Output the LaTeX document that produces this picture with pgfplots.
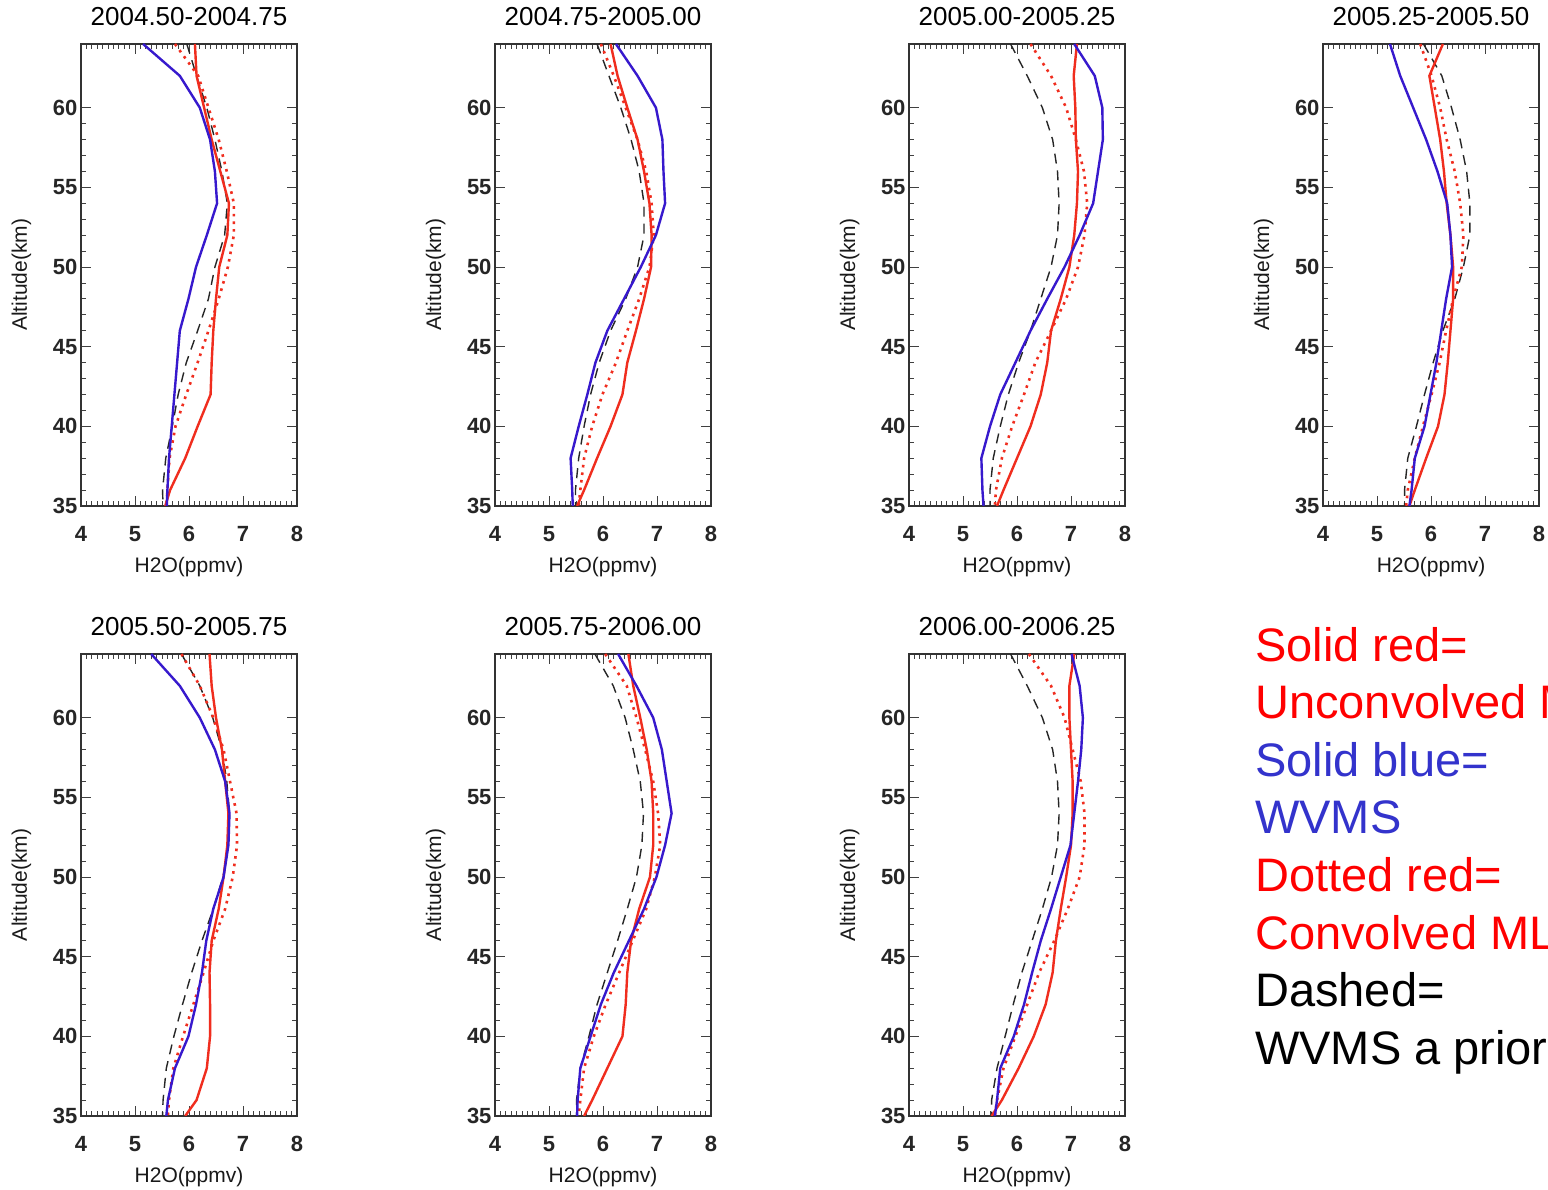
\documentclass[border=0pt]{standalone}
\usepackage{fontspec}
\setmainfont{Liberation Sans}
\usepackage{pgfplots}
\usepackage{pgfplotstable}
\pgfplotsset{compat=1.18}
\definecolor{wblue}{RGB}{55,25,205}
\definecolor{mred}{RGB}{240,45,30}

\pgfplotstableread{
alt blue red dot dash
64 5.15 6.11 5.74 5.96
62 5.83 6.14 6.17 6.14
60 6.20 6.28 6.36 6.33
58 6.39 6.42 6.55 6.48
56 6.48 6.58 6.70 6.61
54 6.52 6.74 6.83 6.71
52 6.33 6.71 6.83 6.66
50 6.13 6.56 6.72 6.48
48 5.99 6.50 6.55 6.36
46 5.83 6.45 6.36 6.16
44 5.78 6.42 6.16 5.95
42 5.73 6.40 5.95 5.80
40 5.68 6.16 5.75 5.69
38 5.63 5.93 5.64 5.57
36 5.60 5.65 5.60 5.51
35 5.59 5.56 5.58 5.52
}\tA
\pgfplotstableread{
alt blue red dot dash
64 6.24 6.14 5.96 5.89
62 6.64 6.27 6.20 6.11
60 6.98 6.45 6.42 6.33
58 7.10 6.64 6.64 6.52
56 7.12 6.76 6.80 6.67
54 7.15 6.86 6.90 6.76
52 6.98 6.90 6.94 6.76
50 6.70 6.89 6.86 6.64
48 6.39 6.76 6.67 6.42
46 6.08 6.61 6.45 6.14
44 5.86 6.45 6.24 5.93
42 5.71 6.36 5.99 5.77
40 5.55 6.14 5.80 5.65
38 5.40 5.89 5.65 5.55
36 5.43 5.65 5.58 5.49
35 5.44 5.52 5.55 5.49
}\tB
\pgfplotstableread{
alt blue red dot dash
64 7.06 7.11 6.25 5.88
62 7.44 7.05 6.63 6.19
60 7.58 7.08 6.91 6.47
58 7.59 7.09 7.09 6.66
56 7.50 7.13 7.24 6.75
54 7.41 7.11 7.30 6.78
52 7.16 7.06 7.25 6.75
50 6.88 6.97 7.13 6.63
48 6.56 6.81 6.91 6.44
46 6.25 6.63 6.63 6.25
44 5.97 6.56 6.34 6.03
42 5.69 6.44 6.13 5.84
40 5.50 6.25 5.91 5.69
38 5.34 6.00 5.72 5.56
36 5.36 5.75 5.61 5.50
35 5.38 5.63 5.59 5.50
}\tC
\pgfplotstableread{
alt blue red dot dash
64 5.24 6.22 5.80 5.86
62 5.43 5.97 6.01 6.20
60 5.67 6.07 6.17 6.38
58 5.91 6.17 6.29 6.54
56 6.12 6.24 6.44 6.66
54 6.30 6.29 6.54 6.72
52 6.36 6.36 6.60 6.72
50 6.39 6.41 6.57 6.60
48 6.28 6.41 6.41 6.44
46 6.19 6.36 6.28 6.22
44 6.10 6.31 6.16 6.04
42 5.99 6.25 6.01 5.88
40 5.88 6.13 5.85 5.73
38 5.70 5.91 5.70 5.57
36 5.64 5.70 5.57 5.51
35 5.60 5.60 5.54 5.51
}\tD
\pgfplotstableread{
alt blue red dot dash
64 5.30 6.38 5.86 5.86
62 5.83 6.42 6.20 6.20
60 6.20 6.50 6.45 6.44
58 6.48 6.61 6.64 6.61
56 6.67 6.67 6.76 6.70
54 6.75 6.73 6.88 6.75
52 6.73 6.71 6.89 6.73
50 6.64 6.64 6.81 6.63
48 6.45 6.55 6.67 6.45
46 6.32 6.42 6.45 6.24
44 6.24 6.38 6.27 6.05
42 6.13 6.39 6.08 5.88
40 5.99 6.39 5.89 5.72
38 5.74 6.33 5.71 5.58
36 5.61 6.14 5.63 5.52
35 5.58 5.93 5.61 5.51
}\tE
\pgfplotstableread{
alt blue red dot dash
64 6.28 6.47 6.04 5.85
62 6.62 6.56 6.44 6.19
60 6.93 6.69 6.62 6.41
58 7.09 6.81 6.78 6.56
56 7.18 6.90 6.93 6.69
54 7.27 6.93 7.02 6.75
52 7.15 6.93 7.06 6.72
50 6.99 6.87 6.96 6.62
48 6.76 6.67 6.80 6.45
46 6.48 6.52 6.55 6.27
44 6.20 6.45 6.30 6.08
42 5.96 6.42 6.05 5.89
40 5.77 6.36 5.83 5.74
38 5.58 6.08 5.65 5.58
36 5.53 5.80 5.58 5.51
35 5.52 5.65 5.55 5.51
}\tF
\pgfplotstableread{
alt blue red dot dash
64 7.01 7.06 6.22 5.88
62 7.16 6.97 6.63 6.19
60 7.22 6.97 6.88 6.47
58 7.19 7.00 7.03 6.66
56 7.13 7.03 7.18 6.75
54 7.06 7.03 7.25 6.78
52 6.99 7.00 7.25 6.75
50 6.81 6.91 7.16 6.64
48 6.63 6.81 6.94 6.47
46 6.44 6.72 6.69 6.28
44 6.28 6.66 6.41 6.09
42 6.13 6.53 6.19 5.93
40 5.94 6.31 5.97 5.78
38 5.69 6.03 5.75 5.63
36 5.63 5.72 5.63 5.53
35 5.59 5.53 5.59 5.53
}\tG

\pgfplotsset{
  panel/.style={
    anchor=south west,
    width=216pt, height=462pt, scale only axis,
    xmin=4, xmax=8, ymin=35, ymax=64,
    xtick={4,5,6,7,8}, ytick={35,40,45,50,55,60},
    minor x tick num=9, minor y tick num=4,
    tick align=inside,
    major tick length=10pt, minor tick length=5pt,
    tick style={black!75, line width=0.9pt},
    axis line style={black!80, line width=1.2pt},
    /pgf/number format/assume math mode=true,
    ticklabel style={font=\fontsize{22}{24}\selectfont\bfseries, text=black!85},
    xticklabel style={anchor=base, yshift=-36pt},
    every axis title/.style={at={(axis description cs:0.5,1)}, anchor=base, yshift=18pt, font=\fontsize{26}{28}\selectfont, text=black},
    xlabel={H2O(ppmv)}, ylabel={Altitude(km)},
    every axis x label/.style={at={(axis description cs:0.5,0)}, anchor=base, yshift=-67pt, font=\fontsize{21}{24}\selectfont, text=black!90},
    every axis y label/.style={at={(axis description cs:-0.25,0.5)}, anchor=base, rotate=90, font=\fontsize{21}{24}\selectfont, text=black!90},
  },
  bl/.style={wblue, line width=2.4pt, no marks},
  rs/.style={mred, line width=2.4pt, no marks},
  rd/.style={mred, line width=2.6pt, dash pattern=on 2.6pt off 5pt, no marks},
  kd/.style={black!85, line width=1.4pt, dash pattern=on 10pt off 7pt, no marks},
}

\newcommand{\panel}[4]{%
\begin{axis}[panel, at={(#1pt,#2pt)}, title={#3}]
\addplot[kd] table[x=dash,y=alt] {#4};
\addplot[rd] table[x=dot,y=alt] {#4};
\addplot[rs] table[x=red,y=alt] {#4};
\addplot[bl] table[x=blue,y=alt] {#4};
\end{axis}}

\begin{document}
\begin{tikzpicture}[x=1pt,y=1pt]
\path[use as bounding box] (0pt,0pt) rectangle (1548pt,1190pt);
\clip (0pt,0pt) rectangle (1548pt,1190pt);
\fill[white] (0pt,0pt) rectangle (1548pt,1190pt);
\panel{81}{684}{2004.50-2004.75}{\tA}
\panel{495}{684}{2004.75-2005.00}{\tB}
\panel{909}{684}{2005.00-2005.25}{\tC}
\panel{1323}{684}{2005.25-2005.50}{\tD}
\panel{81}{74}{2005.50-2005.75}{\tE}
\panel{495}{74}{2005.75-2006.00}{\tF}
\panel{909}{74}{2006.00-2006.25}{\tG}
\begin{scope}[every node/.style={anchor=base west, inner sep=0pt, font=\fontsize{47}{56}\selectfont}]
\node[text=red] at (1255pt,528pt) {Solid red=};
\node[text=red] at (1255pt,471pt) {Unconvolved MLS};
\node[text={rgb,255:red,51;green,51;blue,204}] at (1255pt,413pt) {Solid blue=};
\node[text={rgb,255:red,51;green,51;blue,204}] at (1255pt,356pt) {WVMS};
\node[text=red] at (1255pt,298pt) {Dotted red=};
\node[text=red] at (1255pt,240pt) {Convolved MLS};
\node[text=black] at (1255pt,183pt) {Dashed=};
\node[text=black] at (1255pt,125pt) {WVMS a priori};
\end{scope}
\end{tikzpicture}
\end{document}
